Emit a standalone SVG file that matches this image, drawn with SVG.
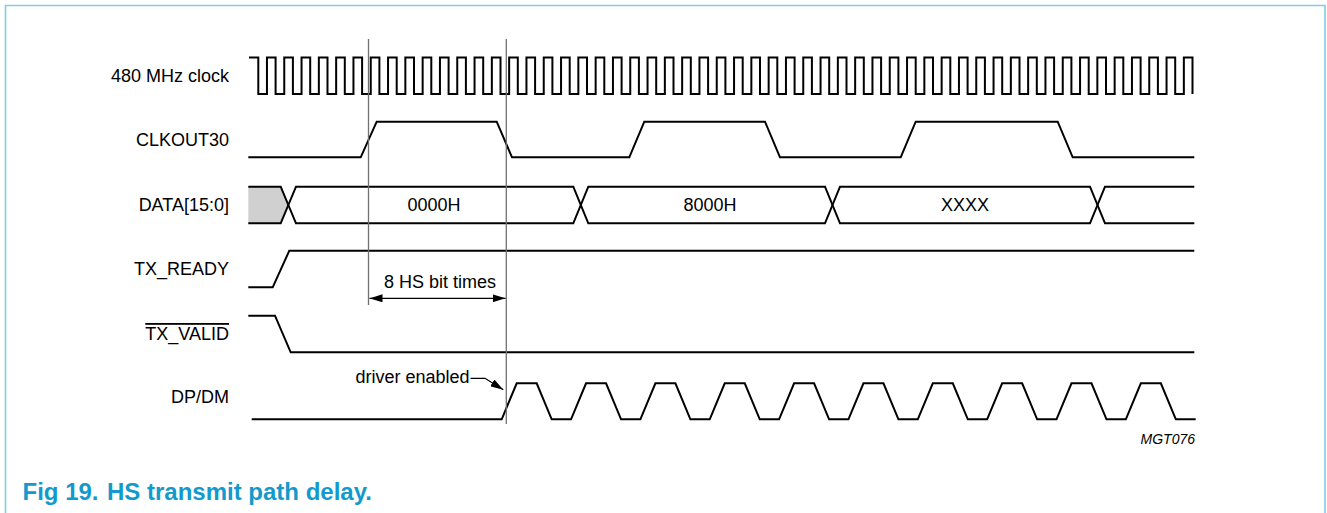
<svg xmlns="http://www.w3.org/2000/svg" width="1327" height="513" viewBox="0 0 1327 513">
<style>
.sig{fill:none;stroke:#000;stroke-width:2;stroke-linejoin:miter}
.guide{fill:none;stroke:#707070;stroke-width:1.3}
.lead{fill:none;stroke:#000;stroke-width:1.2}
.lbl{font-family:"Liberation Sans",Arial,sans-serif;font-size:18px;fill:#000}
.end{text-anchor:end}
.mid{text-anchor:middle}
</style>
<defs>
<marker id="ah" viewBox="0 0 13 8" refX="13" refY="4" markerWidth="13" markerHeight="8" markerUnits="userSpaceOnUse" orient="auto-start-reverse">
<path d="M0,0 L13,4 L0,8 Z" fill="#000"/>
</marker>
</defs>
<rect width="1327" height="513" fill="#fff"/>
<path d="M5.5,513 V5.5 H1325 V513" fill="none" stroke="#80cde2" stroke-width="1.6"/>

<g id="clk480">
<text class="lbl end" x="229" y="81.5">480 MHz clock</text>
<path class="sig" d="M249,57.5 H258.3 V94
h8.65V57.5h8.65V94 h8.65V57.5h8.65V94 h8.65V57.5h8.65V94 h8.65V57.5h8.65V94 h8.65V57.5h8.65V94 h8.65V57.5h8.65V94
h8.65V57.5h8.65V94 h8.65V57.5h8.65V94 h8.65V57.5h8.65V94 h8.65V57.5h8.65V94 h8.65V57.5h8.65V94 h8.65V57.5h8.65V94
h8.65V57.5h8.65V94 h8.65V57.5h8.65V94 h8.65V57.5h8.65V94 h8.65V57.5h8.65V94 h8.65V57.5h8.65V94 h8.65V57.5h8.65V94
h8.65V57.5h8.65V94 h8.65V57.5h8.65V94 h8.65V57.5h8.65V94 h8.65V57.5h8.65V94 h8.65V57.5h8.65V94 h8.65V57.5h8.65V94
h8.65V57.5h8.65V94 h8.65V57.5h8.65V94 h8.65V57.5h8.65V94 h8.65V57.5h8.65V94 h8.65V57.5h8.65V94 h8.65V57.5h8.65V94
h8.65V57.5h8.65V94 h8.65V57.5h8.65V94 h8.65V57.5h8.65V94 h8.65V57.5h8.65V94 h8.65V57.5h8.65V94 h8.65V57.5h8.65V94
h8.65V57.5h8.65V94 h8.65V57.5h8.65V94 h8.65V57.5h8.65V94 h8.65V57.5h8.65V94 h8.65V57.5h8.65V94 h8.65V57.5h8.65V94
h8.65V57.5h8.65V94 h8.65V57.5h8.65V94 h8.65V57.5h8.65V94 h8.65V57.5h8.65V94 h8.65V57.5h8.65V94 h8.65V57.5h8.65V94
h8.65V57.5h8.65V94 h8.65V57.5h8.65V94 h8.65V57.5h8.65V94 h8.65V57.5h8.65V94 h8.65V57.5h8.65V94 h8.65V57.5h8.65V94"/>
</g>

<g id="clkout30">
<text class="lbl end" x="229" y="146">CLKOUT30</text>
<path class="sig" d="M248.3,157.3 H360.7 L376.7,121.7 H496.7 L512,157.3 H629.3 L644.3,121.7 H765 L780,157.3 H900.7 L915.7,121.7 H1057.7 L1072.7,157.3 H1194.3"/>
</g>

<g id="data">
<text class="lbl end" x="229" y="211.3">DATA[15:0]</text>
<path d="M248.3,186.7 H280.7 L288.3,205 L280.7,223.3 H248.3 Z" fill="#d0d0d0"/>
<path class="sig" d="M248.3,186.7 H280.7 L296,223.3 H573.3 L588.3,186.7 H825 L840,223.3 H1090 L1105,186.7 H1194.3"/>
<path class="sig" d="M248.3,223.3 H280.7 L296,186.7 H573.3 L588.3,223.3 H825 L840,186.7 H1090 L1105,223.3 H1194.3"/>
<text class="lbl mid" x="434" y="211.3">0000H</text>
<text class="lbl mid" x="710" y="211.3">8000H</text>
<text class="lbl mid" x="965" y="211.3">XXXX</text>
</g>

<g id="tx_ready">
<text class="lbl end" x="229" y="274.5">TX_READY</text>
<path class="sig" d="M248.3,287.3 H272.7 L289.3,250.7 H1194.3"/>
</g>

<g id="tx_valid">
<text class="lbl end" x="229" y="340" text-decoration="overline">TX_VALID</text>
<path class="sig" d="M248.3,315.7 H275 L290.7,352.3 H1194.3"/>
</g>

<g id="dpdm">
<text class="lbl end" x="229" y="403">DP/DM</text>
<path class="sig" d="M251.7,419.3 H501.7
l15,-36h20l15,36h19.35 l15,-36h20l15,36h19.35 l15,-36h20l15,36h19.35
l15,-36h20l15,36h19.35 l15,-36h20l15,36h19.35 l15,-36h20l15,36h19.35
l15,-36h20l15,36h19.35 l15,-36h20l15,36h19.35 l15,-36h20l15,36h19.35
l15,-36h20l15,36 H1195.7"/>
</g>

<g id="connectors">
<line class="guide" x1="368.5" y1="39" x2="368.5" y2="305"/>
<line class="guide" x1="506.3" y1="39" x2="506.3" y2="424"/>
<line class="lead" x1="369.5" y1="298.3" x2="505.5" y2="298.3" marker-start="url(#ah)" marker-end="url(#ah)"/>
<text class="lbl mid" x="440" y="288">8 HS bit times</text>
<path class="lead" d="M470.5,378.3 H485 L503.3,389.8" marker-end="url(#ah)"/>
<text class="lbl end" x="469.5" y="383">driver enabled</text>
</g>

<text x="1195" y="443.5" text-anchor="end" font-family="Liberation Sans,Arial,sans-serif" font-style="italic" font-size="14">MGT076</text>
<text x="22.5" y="500" font-family="Liberation Sans,Arial,sans-serif" font-weight="bold" font-size="24" fill="#1499cc">Fig 19.<tspan x="107">HS transmit path delay.</tspan></text>
</svg>
